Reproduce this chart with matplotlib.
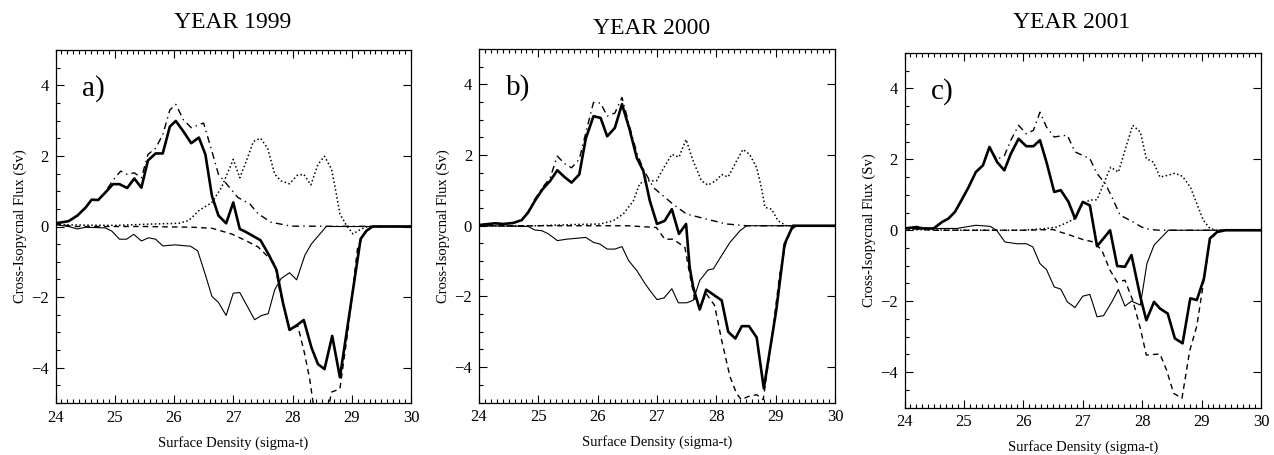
import matplotlib
matplotlib.use("Agg")
import matplotlib.pyplot as plt
from matplotlib.ticker import MultipleLocator

plt.rcParams["font.family"] = ["Liberation Serif", "DejaVu Serif"]

# ---- data: (sigma-t, flux in Sv) ----
years = ["YEAR 1999", "YEAR 2000", "YEAR 2001"]
letters = ["a)", "b)", "c)"]

a_total = [(24.0, 0.09), (24.22, 0.15), (24.37, 0.31), (24.51, 0.54), (24.61, 0.76), (24.72, 0.75),
           (24.84, 0.96), (24.97, 1.2), (25.08, 1.2), (25.21, 1.09), (25.33, 1.36), (25.45, 1.1),
           (25.56, 1.87), (25.69, 2.07), (25.81, 2.07), (25.93, 2.83), (26.03, 2.99), (26.16, 2.69),
           (26.29, 2.36), (26.42, 2.52), (26.53, 2.04), (26.64, 0.87), (26.75, 0.31), (26.88, 0.09),
           (27.0, 0.68), (27.11, -0.07), (27.22, -0.16), (27.46, -0.39), (27.59, -0.77), (27.73, -1.23),
           (27.84, -2.17), (27.95, -2.93), (28.07, -2.8), (28.19, -2.65), (28.32, -3.43), (28.43, -3.9),
           (28.54, -4.04), (28.67, -3.1), (28.8, -4.27), (29.15, -0.35), (29.25, -0.12), (29.35, 0.0),
           (30.0, 0.0)]
a_dashdot = [(24.0, 0.09), (24.22, 0.15), (24.37, 0.31), (24.51, 0.54), (24.61, 0.76), (24.72, 0.75),
             (24.84, 0.98), (24.97, 1.31), (25.1, 1.57), (25.21, 1.48), (25.33, 1.52), (25.45, 1.38),
             (25.56, 2.04), (25.69, 2.22), (25.81, 2.6), (25.93, 3.3), (26.03, 3.46), (26.16, 3.02),
             (26.29, 2.8), (26.5, 2.93), (26.64, 2.13), (26.75, 1.48), (26.9, 1.18), (27.08, 0.82),
             (27.28, 0.64), (27.42, 0.36), (27.64, 0.12), (27.98, 0.01), (30.0, 0.0)]
a_dotted = [(24.0, 0.05), (25.0, 0.03), (25.63, 0.07), (26.08, 0.09), (26.25, 0.17), (26.42, 0.45),
            (26.64, 0.68), (26.8, 1.1), (26.9, 1.5), (27.0, 1.9), (27.11, 1.38), (27.22, 1.85),
            (27.34, 2.41), (27.46, 2.5), (27.58, 2.22), (27.7, 1.48), (27.81, 1.29), (27.95, 1.21),
            (28.08, 1.45), (28.19, 1.48), (28.31, 1.18), (28.43, 1.76), (28.54, 1.99), (28.66, 1.62),
            (28.74, 0.92), (28.8, 0.36), (28.91, 0.03), (29.02, -0.21), (29.16, -0.07), (29.27, 0.0),
            (30.0, 0.0)]
a_dashed = [(24.0, 0.08), (24.3, 0.0), (25.5, 0.0), (26.3, -0.02), (26.64, -0.05), (26.97, -0.21),
            (27.2, -0.39), (27.42, -0.58), (27.7, -1.05), (27.78, -1.79), (27.95, -2.9), (28.09, -2.82),
            (28.2, -3.57), (28.29, -4.32), (28.4, -5.6), (28.55, -5.6), (28.66, -4.69), (28.8, -4.6),
            (28.94, -2.9), (29.1, -0.58), (29.22, -0.16), (29.35, 0.0), (30.0, 0.0)]
a_thin = [(24.0, 0.05), (24.22, 0.0), (24.37, -0.07), (24.51, -0.02), (24.84, -0.04), (24.95, -0.13),
          (25.08, -0.36), (25.2, -0.36), (25.32, -0.22), (25.45, -0.41), (25.57, -0.32), (25.69, -0.36),
          (25.81, -0.55), (26.02, -0.52), (26.28, -0.56), (26.4, -0.69), (26.53, -1.37), (26.64, -1.98),
          (26.75, -2.15), (26.88, -2.52), (27.0, -1.89), (27.11, -1.87), (27.36, -2.64), (27.48, -2.52),
          (27.59, -2.47), (27.7, -1.79), (27.81, -1.47), (27.95, -1.31), (28.07, -1.51), (28.21, -0.81),
          (28.32, -0.49), (28.57, 0.0), (30.0, 0.0)]

b_total = [(24.0, 0.02), (24.27, 0.07), (24.41, 0.05), (24.58, 0.08), (24.72, 0.16), (24.83, 0.38),
           (24.94, 0.7), (25.07, 1.03), (25.2, 1.27), (25.32, 1.57), (25.44, 1.38), (25.56, 1.22),
           (25.69, 1.45), (25.8, 2.47), (25.93, 3.1), (26.05, 3.05), (26.16, 2.53), (26.29, 2.77),
           (26.41, 3.44), (26.53, 2.77), (26.66, 1.92), (26.77, 1.55), (26.88, 0.7), (27.0, 0.05),
           (27.13, 0.14), (27.25, 0.47), (27.37, -0.23), (27.49, 0.05), (27.55, -1.17), (27.61, -1.74),
           (27.72, -2.37), (27.83, -1.81), (28.09, -2.11), (28.2, -3.0), (28.32, -3.19), (28.43, -2.84),
           (28.55, -2.84), (28.68, -3.16), (28.8, -4.6), (29.01, -2.39), (29.15, -0.52), (29.29, 0.0),
           (30.0, 0.0)]
b_dashdot = [(24.0, 0.02), (24.27, 0.07), (24.41, 0.05), (24.58, 0.08), (24.72, 0.16), (24.83, 0.4),
             (24.94, 0.75), (25.07, 1.08), (25.2, 1.36), (25.32, 1.97), (25.44, 1.76), (25.56, 1.64),
             (25.69, 1.88), (25.8, 2.63), (25.93, 3.49), (26.05, 3.47), (26.16, 3.1), (26.29, 3.19),
             (26.41, 3.63), (26.53, 2.86), (26.66, 2.06), (26.77, 1.6), (26.94, 1.08), (27.27, 0.61),
             (27.5, 0.33), (27.83, 0.19), (28.17, 0.05), (28.51, 0.0), (30.0, 0.0)]
b_dotted = [(24.0, 0.0), (25.0, 0.0), (25.5, 0.03), (26.04, 0.05), (26.26, 0.14), (26.43, 0.33),
            (26.6, 0.7), (26.71, 1.2), (26.85, 1.27), (26.99, 1.27), (27.1, 1.6), (27.25, 2.02),
            (27.37, 1.94), (27.49, 2.44), (27.61, 1.83), (27.75, 1.27), (27.86, 1.15), (27.99, 1.27),
            (28.09, 1.45), (28.2, 1.38), (28.34, 1.83), (28.45, 2.16), (28.56, 2.02), (28.68, 1.64),
            (28.76, 1.08), (28.82, 0.52), (28.93, 0.47), (29.04, 0.14), (29.18, 0.0), (30.0, 0.0)]
b_dashed = [(24.0, 0.0), (26.5, 0.0), (26.99, -0.05), (27.13, -0.38), (27.27, -0.38), (27.47, -0.61),
            (27.55, -1.36), (27.64, -2.11), (27.72, -2.3), (27.83, -1.92), (27.97, -2.25), (28.09, -3.24),
            (28.23, -4.27), (28.34, -4.74), (28.42, -4.92), (28.54, -4.83), (28.68, -4.78), (28.79, -4.92),
            (28.93, -3.24), (29.07, -1.36), (29.18, -0.42), (29.27, -0.1), (29.35, 0.0), (30.0, 0.0)]
b_thin = [(24.0, 0.0), (24.83, -0.02), (24.94, -0.12), (25.06, -0.14), (25.17, -0.23), (25.32, -0.42),
          (25.48, -0.38), (25.8, -0.33), (25.93, -0.47), (26.04, -0.52), (26.16, -0.66), (26.29, -0.66),
          (26.41, -0.59), (26.52, -0.98), (26.66, -1.27), (26.8, -1.64), (26.88, -1.83), (27.0, -2.09),
          (27.12, -2.04), (27.25, -1.78), (27.36, -2.18), (27.5, -2.18), (27.61, -2.11), (27.72, -1.55),
          (27.86, -1.25), (27.95, -1.22), (28.09, -0.84), (28.23, -0.47), (28.4, -0.14), (28.51, 0.0),
          (30.0, 0.0)]

c_total = [(24.0, 0.05), (24.2, 0.09), (24.32, 0.05), (24.49, 0.05), (24.63, 0.23), (24.74, 0.33),
           (24.85, 0.52), (24.96, 0.85), (25.08, 1.22), (25.2, 1.64), (25.32, 1.83), (25.43, 2.35),
           (25.56, 1.92), (25.68, 1.69), (25.79, 2.16), (25.92, 2.58), (26.05, 2.37), (26.17, 2.37),
           (26.28, 2.54), (26.39, 1.92), (26.52, 1.08), (26.63, 1.13), (26.76, 0.8), (26.87, 0.33),
           (27.0, 0.8), (27.12, 0.7), (27.24, -0.45), (27.35, -0.23), (27.46, 0.0), (27.58, -1.01),
           (27.71, -1.03), (27.82, -0.7), (27.97, -1.88), (28.07, -2.54), (28.2, -2.02), (28.3, -2.21),
           (28.43, -2.35), (28.55, -3.05), (28.68, -3.19), (28.81, -1.92), (28.92, -1.97), (29.04, -1.36),
           (29.14, -0.23), (29.26, -0.05), (29.4, 0.0), (30.0, 0.0)]
c_dashdot = [(24.0, 0.05), (24.2, 0.08), (24.49, 0.04), (24.63, 0.23), (24.74, 0.33), (24.85, 0.52),
             (24.96, 0.85), (25.08, 1.22), (25.2, 1.64), (25.32, 1.85), (25.43, 2.3), (25.56, 2.0),
             (25.68, 2.1), (25.79, 2.54), (25.92, 2.96), (26.05, 2.72), (26.17, 2.82), (26.28, 3.33),
             (26.39, 2.91), (26.52, 2.63), (26.63, 2.66), (26.74, 2.68), (26.87, 2.21), (27.0, 2.11),
             (27.12, 2.02), (27.24, 1.6), (27.38, 1.31), (27.49, 0.94), (27.63, 0.42), (27.74, 0.33),
             (27.85, 0.23), (27.99, 0.09), (28.13, 0.02), (28.3, 0.0), (30.0, 0.0)]
c_dotted = [(24.0, 0.02), (25.0, 0.0), (26.0, 0.0), (26.39, 0.05), (26.56, 0.09), (26.7, 0.19),
            (26.87, 0.33), (27.0, 0.75), (27.12, 0.85), (27.24, 0.86), (27.35, 1.31), (27.47, 1.78),
            (27.6, 1.64), (27.71, 2.25), (27.84, 2.96), (27.97, 2.77), (28.07, 2.02), (28.19, 1.92),
            (28.3, 1.5), (28.43, 1.55), (28.55, 1.61), (28.68, 1.52), (28.81, 1.22), (28.92, 0.75),
            (29.03, 0.28), (29.14, 0.05), (29.25, 0.0), (30.0, 0.0)]
c_dashed = [(24.0, 0.05), (24.5, 0.0), (26.0, 0.0), (26.5, 0.02), (26.62, -0.05), (26.79, -0.14),
            (27.0, -0.26), (27.18, -0.33), (27.32, -0.56), (27.46, -1.13), (27.58, -1.46), (27.71, -1.41),
            (27.84, -1.97), (27.97, -2.77), (28.07, -3.52), (28.3, -3.49), (28.41, -3.94), (28.53, -4.6),
            (28.67, -4.74), (28.8, -3.4), (28.92, -2.7), (29.03, -1.5), (29.14, -0.3), (29.26, -0.05),
            (29.4, 0.0), (30.0, 0.0)]
c_thin = [(24.0, 0.05), (24.88, 0.05), (25.2, 0.14), (25.44, 0.11), (25.55, 0.0), (25.69, -0.33),
          (25.89, -0.38), (26.05, -0.38), (26.16, -0.47), (26.28, -0.94), (26.39, -1.11), (26.52, -1.6),
          (26.63, -1.66), (26.74, -2.02), (26.87, -2.18), (27.0, -1.86), (27.12, -1.81), (27.24, -2.44),
          (27.35, -2.41), (27.49, -2.02), (27.6, -1.67), (27.71, -2.14), (27.82, -2.0), (27.97, -2.11),
          (28.08, -0.94), (28.2, -0.42), (28.36, -0.14), (28.44, 0.0), (30.0, 0.0)]

panels = [
    [a_thin, a_dashed, a_dotted, a_dashdot, a_total],
    [b_thin, b_dashed, b_dotted, b_dashdot, b_total],
    [c_thin, c_dashed, c_dotted, c_dashdot, c_total],
]

# line styles, same order as the curves above
styles = [
    dict(color="black", linewidth=0.8, linestyle="-"),
    dict(color="black", linewidth=1.0, linestyle=(0, (4, 3))),
    dict(color="black", linewidth=1.1, linestyle=(0, (1, 1.6))),
    dict(color="black", linewidth=1.0, linestyle=(0, (5, 3, 1, 3))),
    dict(color="black", linewidth=1.9, linestyle="-"),
]

W, H = 1274, 455
# axes boxes in pixels: left, top, right, bottom
boxes = [(55.5, 50, 411, 403), (479, 49, 835, 402.5), (904.5, 53, 1261, 407.5)]
title_pos = [(233, 22), (652, 28), (1072, 22)]

fig = plt.figure(figsize=(W / 100, H / 100), dpi=100)

for i, curves in enumerate(panels):
    l, t, r, b = boxes[i]
    ax = fig.add_axes([l / W, 1 - b / H, (r - l) / W, (b - t) / H])
    for pts, st in zip(curves, styles):
        xs = [p[0] for p in pts]
        ys = [p[1] for p in pts]
        ax.plot(xs, ys, **st)

    ax.set_xlim(24, 30)
    ax.set_ylim(-5, 5)
    ax.xaxis.set_major_locator(MultipleLocator(1))
    ax.xaxis.set_minor_locator(MultipleLocator(0.1))
    ax.yaxis.set_major_locator(MultipleLocator(2))
    ax.yaxis.set_minor_locator(MultipleLocator(0.5))
    ax.tick_params(which="both", direction="in", top=True, right=True, labelsize=12, width=0.8)
    ax.tick_params(which="major", length=6, pad=5)
    ax.tick_params(which="minor", length=3, right=False)
    for sp in ax.spines.values():
        sp.set_linewidth(0.9)

    ax.set_xlabel("Surface Density (sigma-t)", fontsize=10.5, labelpad=7)
    ax.set_ylabel("Cross-Isopycnal Flux (Sv)", fontsize=10.5, labelpad=3)
    ax.text(24.45, 3.9, letters[i], fontsize=21, ha="left", va="center")

    tx, ty = title_pos[i]
    fig.text(tx / W, 1 - ty / H, years[i], fontsize=17, ha="center", va="center")

fig.savefig("out.png", dpi=100)
